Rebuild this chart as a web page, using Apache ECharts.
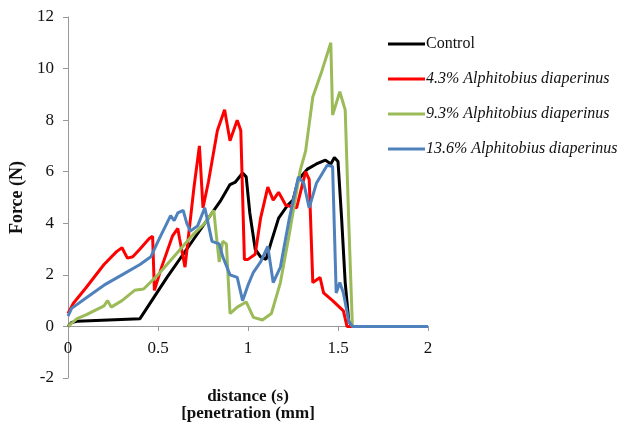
<!DOCTYPE html>
<html>
<head>
<meta charset="utf-8">
<script src="https://cdn.jsdelivr.net/npm/echarts@6/dist/echarts.min.js"></script>
<style>
  html, body { margin: 0; padding: 0; background: #fff; }
  #chart { width: 625px; height: 429px; }
</style>
</head>
<body>
<div id="chart"></div>
<script>
(function(){
    // series names
    var seriesNames = ['Control', '4.3% Alphitobius diaperinus', '9.3% Alphitobius diaperinus', '13.6% Alphitobius diaperinus'];

    // Control
    var controlX = [0, 0.02, 0.05, 0.4, 0.55, 0.7, 0.85, 0.9, 0.93, 0.97, 0.99, 1.01, 1.04, 1.07, 1.1, 1.13, 1.17, 1.22, 1.25, 1.28, 1.33, 1.38, 1.43, 1.46, 1.48, 1.5, 1.52, 1.54, 1.56, 1.58, 2.0];
    var controlY = [0, 0.15, 0.2, 0.3, 1.9, 3.4, 4.9, 5.5, 5.6, 5.95, 5.8, 4.4, 3.0, 2.7, 2.6, 3.3, 4.2, 4.7, 4.9, 5.7, 6.1, 6.3, 6.45, 6.3, 6.55, 6.4, 4.2, 1.7, 0.2, 0, 0];

    // 4.3%
    var redX = [0, 0.03, 0.1, 0.2, 0.27, 0.3, 0.33, 0.36, 0.4, 0.45, 0.47, 0.48, 0.52, 0.58, 0.61, 0.62, 0.65, 0.7, 0.73, 0.75, 0.78, 0.83, 0.87, 0.9, 0.94, 0.96, 0.98, 1.0, 1.04, 1.07, 1.11, 1.14, 1.17, 1.21, 1.27, 1.32, 1.34, 1.36, 1.4, 1.42, 1.47, 1.53, 1.55, 1.58, 2.0];
    var redY = [0.5, 0.9, 1.5, 2.4, 2.9, 3.05, 2.65, 2.7, 3.0, 3.4, 3.5, 1.4, 2.3, 3.5, 3.8, 3.4, 2.3, 5.4, 7.0, 4.6, 5.6, 7.6, 8.4, 7.2, 8.0, 7.6, 2.6, 2.6, 2.8, 4.2, 5.4, 4.9, 5.2, 4.7, 4.6, 6.0, 5.7, 1.7, 1.9, 1.3, 1.0, 0.6, 0, 0, 0];

    // 9.3%
    var greenX = [0, 0.05, 0.1, 0.2, 0.22, 0.24, 0.3, 0.37, 0.42, 0.5, 0.6, 0.7, 0.76, 0.81, 0.82, 0.84, 0.86, 0.88, 0.9, 0.94, 0.99, 1.03, 1.08, 1.13, 1.18, 1.23, 1.29, 1.32, 1.36, 1.41, 1.46, 1.47, 1.51, 1.54, 1.56, 1.58, 2.0];
    var greenY = [0, 0.3, 0.45, 0.8, 1.0, 0.75, 1.0, 1.4, 1.45, 2.0, 2.8, 3.6, 4.0, 4.5, 3.8, 2.5, 3.3, 3.2, 0.5, 0.75, 0.95, 0.35, 0.25, 0.5, 1.7, 3.6, 6.05, 6.8, 8.9, 9.9, 11.0, 8.2, 9.1, 8.4, 4.0, 0, 0];

    // 13.6%
    var blueX = [0, 0.02, 0.1, 0.2, 0.3, 0.4, 0.46, 0.5, 0.57, 0.59, 0.61, 0.64, 0.66, 0.68, 0.72, 0.76, 0.8, 0.84, 0.86, 0.9, 0.94, 0.97, 1.0, 1.03, 1.07, 1.11, 1.14, 1.18, 1.23, 1.28, 1.31, 1.34, 1.38, 1.44, 1.47, 1.49, 1.51, 1.53, 1.56, 1.58, 2.0];
    var blueY = [0.4, 0.7, 1.1, 1.6, 2.0, 2.4, 2.7, 3.3, 4.3, 4.1, 4.4, 4.5, 4.0, 3.7, 3.9, 4.6, 3.3, 3.2, 2.7, 2.0, 1.9, 1.0, 1.6, 2.1, 2.5, 3.1, 1.7, 2.3, 4.2, 5.8, 5.55, 4.6, 5.55, 6.25, 6.2, 1.3, 1.7, 1.3, 0.2, 0, 0];

    var colors = ['#000000', '#ff0000', '#9bbb59', '#4f81bd'];

    function pairs(xs, ys) {
        return xs.map(function(x, i){ return [x, ys[i]]; });
    }

    var allX = [controlX, redX, greenX, blueX];
    var allY = [controlY, redY, greenY, blueY];

    var serif = 'Liberation Serif';

    var chart = echarts.init(document.getElementById('chart'));

    var option = {
        animation: false,
        color: colors,
        grid: {
            left: 68,
            right: 197,
            top: 17,
            bottom: 51,
            containLabel: false,
            outerBoundsMode: 'none'
        },
        legend: {
            orient: 'vertical',
            left: 388,
            top: 36,
            padding: 0,
            icon: 'rect',
            itemWidth: 37,
            itemHeight: 3,
            itemGap: 19,
            textStyle: {
                fontFamily: serif,
                fontSize: 16,
                color: '#111',
                fontStyle: 'italic',
                padding: [0, 0, 0, -4]
            },
            data: [
                { name: seriesNames[0], textStyle: { fontStyle: 'normal' } },
                { name: seriesNames[1] },
                { name: seriesNames[2] },
                { name: seriesNames[3] }
            ]
        },
        xAxis: {
            type: 'value',
            min: 0,
            max: 2,
            interval: 0.5,
            offset: -52,
            name: 'distance (s)\n[penetration (mm]',
            nameLocation: 'middle',
            nameGap: 62,
            nameTextStyle: {
                fontFamily: serif,
                fontSize: 17,
                fontWeight: 'bold',
                color: '#111',
                lineHeight: 17
            },
            axisLine: { onZero: false, lineStyle: { color: '#999', width: 1 } },
            axisTick: { show: true, length: 5, lineStyle: { color: '#999' } },
            axisLabel: {
                fontFamily: serif,
                fontSize: 17,
                color: '#111',
                margin: 14
            },
            splitLine: { show: false }
        },
        yAxis: {
            type: 'value',
            min: -2,
            max: 12,
            interval: 2,
            name: 'Force (N)',
            nameLocation: 'middle',
            nameRotate: 90,
            nameGap: 41,
            nameTextStyle: {
                fontFamily: serif,
                fontSize: 18,
                fontWeight: 'bold',
                color: '#111',
                padding: [0, 0, 0, 0]
            },
            axisLine: { show: true, lineStyle: { color: '#999', width: 1 } },
            axisTick: { show: true, length: 5, lineStyle: { color: '#999' } },
            axisLabel: {
                fontFamily: serif,
                fontSize: 17,
                color: '#111',
                margin: 14
            },
            splitLine: { show: false }
        },
        series: seriesNames.map(function(name, i){
            return {
                name: name,
                type: 'line',
                symbol: 'none',
                data: pairs(allX[i], allY[i]),
                lineStyle: { width: 3, color: colors[i] },
                itemStyle: { color: colors[i] },
                z: 2 + i
            };
        })
    };

    chart.setOption(option);
})();
</script>
</body>
</html>
